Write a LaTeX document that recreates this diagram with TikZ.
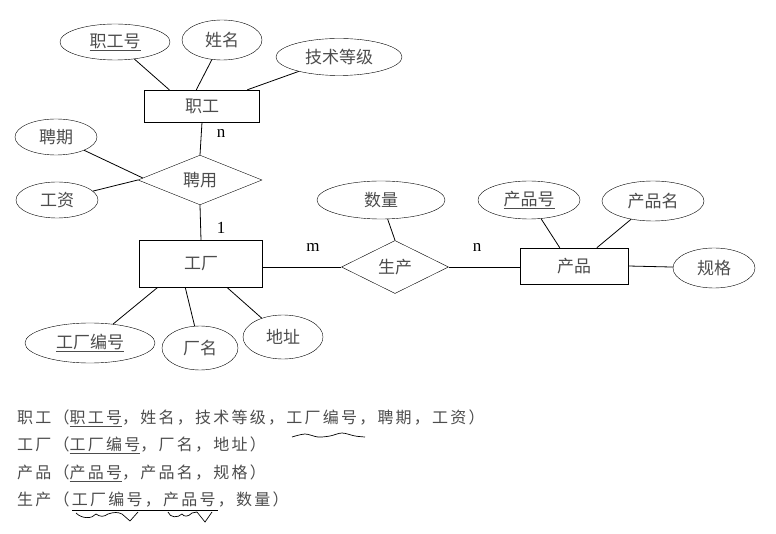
\documentclass[tikz,border=0pt]{standalone}
\usepackage{fontspec}
\setmainfont{Noto Sans CJK SC}
\newfontfamily\latfont{Liberation Serif}
\usetikzlibrary{shapes.geometric,calc}
\begin{document}
\begin{tikzpicture}[x=1pt,y=-1pt,
  every node/.style={text=black!70,font=\fontsize{17}{17}\selectfont},
  attr/.style={draw=black,ellipse,inner sep=0pt},
  ent/.style={draw=black,rectangle,inner sep=0pt},
  rel/.style={draw=black,diamond,inner sep=0pt},
  card/.style={text=black,font=\latfont\fontsize{17}{17}\selectfont},
  ln/.style={draw=black,line width=0.8pt},
  rowtxt/.style={anchor=west,inner sep=0pt,font=\fontsize{16}{16}\selectfont\addfontfeature{LetterSpace=14}}]
\useasboundingbox (0,0) rectangle (776,534);
% entities
\node[ent,minimum width=115,minimum height=32] (zg) at (202,106) {职工};
\node[ent,minimum width=123,minimum height=47] (gc) at (201,264) {工厂};
\node[ent,minimum width=108,minimum height=36] (cp) at (574,266) {产品};
% relationships
\node[rel,minimum width=124,minimum height=48] (py) at (200,180) {聘用};
\node[rel,minimum width=107,minimum height=53] (sc) at (395,267) {生产};
% attributes
\node[attr,minimum width=110,minimum height=36] (zgh) at (115,42) {\underline{职工号}};
\node[attr,minimum width=80,minimum height=40] (xm) at (222,40) {姓名};
\node[attr,minimum width=126,minimum height=37] (js) at (339,57) {技术等级};
\node[attr,minimum width=82,minimum height=36] (pq) at (56,137) {聘期};
\node[attr,minimum width=82,minimum height=36] (gz) at (57,200) {工资};
\node[attr,minimum width=130,minimum height=40] (gcbh) at (90,343) {\underline{工厂编号}};
\node[attr,minimum width=76,minimum height=44] (cm) at (200,348) {厂名};
\node[attr,minimum width=80,minimum height=44] (dz) at (283,337) {地址};
\node[attr,minimum width=128,minimum height=38] (sl) at (381,200) {数量};
\node[attr,minimum width=102,minimum height=38] (cph) at (529,200) {\underline{产品号}};
\node[attr,minimum width=102,minimum height=40] (cpm) at (653,201) {产品名};
\node[attr,minimum width=82,minimum height=40] (gg) at (714,268) {规格};
% connectors
\draw[ln] (zgh) -- ($(zg.north west)+(25,0)$);
\draw[ln] (xm) -- ($(zg.north west)+(52,0)$);
\draw[ln] (js) -- ($(zg.north west)+(103,0)$);
\draw[ln] (zg.south) -- (py.north);
\draw[ln] (pq) -- ($(py.west)+(5,-2)$);
\draw[ln] (gz) -- (py.west);
\draw[ln] (py.south) -- (gc.north);
\draw[ln] ($(gc.south west)+(18,0)$) -- (gcbh);
\draw[ln] ($(gc.south west)+(46,0)$) -- (cm);
\draw[ln] ($(gc.south west)+(88,0)$) -- (dz);
\draw[ln] (gc.east |- sc.west) -- (sc.west);
\draw[ln] (sc.east) -- (cp.west |- sc.east);
\draw[ln] (sl) -- (sc.north);
\draw[ln] (cph) -- ($(cp.north west)+(40,0)$);
\draw[ln] (cpm) -- ($(cp.north west)+(77,0)$);
\draw[ln] (cp.east) -- (gg);
% cardinalities
\node[card] (c1) at (221,133) {n};
\node[card] (c2) at (221,228) {1};
\node[card] (c3) at (313,247) {m};
\node[card] (c4) at (477,247) {n};
% relational schema
\node[rowtxt] (r1) at (17,418) {职工（\underline{职工号}，姓名，技术等级，工厂编号，聘期，工资）};
\node[rowtxt] (r2) at (17,445) {工厂（\underline{工厂编号}，厂名，地址）};
\node[rowtxt] (r3) at (17,473) {产品（\underline{产品号}，产品名，规格）};
\node[rowtxt] (r4) at (17,500) {生产（工厂编号，产品号，数量）};
\draw[ln,line width=0.7pt] (72,510) -- (218,510);
\draw[line width=0.7pt] plot[smooth] coordinates {(292,437) (305,434) (318,437) (330,436) (342,433) (355,436) (365,437)};
\draw[line width=0.7pt] (76,513) .. controls (82,519) and (92,519) .. (96,514) .. controls (100,517) and (104,517) .. (108,514) .. controls (114,512) and (118,512) .. (122,514) -- (130,521) -- (138,512);
\draw[line width=0.7pt] (168,512) .. controls (170,518) and (178,518) .. (182,514) .. controls (184,517) and (188,517) .. (192,513) -- (197,512) -- (205,522) -- (212,512);
\end{tikzpicture}
\end{document}
